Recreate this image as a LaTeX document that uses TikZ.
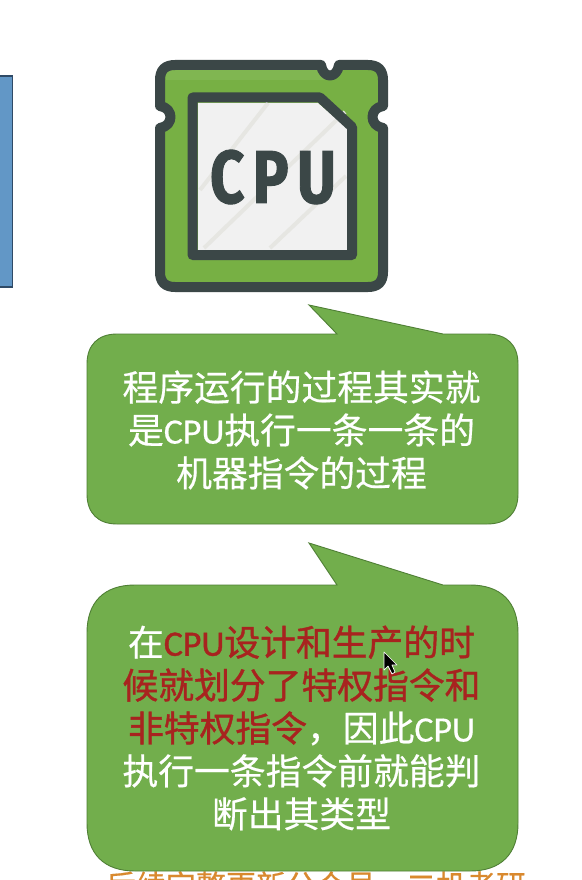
\documentclass[tikz,border=0pt]{standalone}
\usepackage{fontspec}
\setmainfont[FakeBold=0.5]{Noto Sans CJK SC}
\newfontfamily\hotfont[FakeBold=1.1]{Noto Sans CJK SC}
\newfontfamily\latfont[FakeBold=0.5]{Carlito}
\newfontfamily\hotlat[FakeBold=1.1]{Carlito}
\newfontfamily\chipfont[FakeStretch=0.8,LetterSpace=11,FakeBold=1.2]{Fira Sans}
\usetikzlibrary{calc}
\def\lat#1{{\latfont #1}}
\def\hot#1{\textcolor{hotred}{\hotfont #1}}
\definecolor{bubblegreen}{HTML}{72AE4C}
\definecolor{bubbleedge}{HTML}{4F7F35}
\definecolor{chipgreen}{HTML}{77B044}
\definecolor{chiplight}{HTML}{80B651}
\definecolor{chipdark}{HTML}{3B4747}
\definecolor{chipface}{HTML}{F1F1F1}
\definecolor{chipstripe}{HTML}{E6E6E2}
\definecolor{hotred}{HTML}{A8231F}
\definecolor{noteorange}{HTML}{D9892E}
\definecolor{panelblue}{HTML}{6297C6}
\definecolor{paneledge}{HTML}{2F4A66}
\begin{document}
\begin{tikzpicture}[x=1pt,y=-1pt]
    \tikzstyle{bubble}=[fill=bubblegreen,draw=bubbleedge,line width=0.9pt]
    \tikzstyle{chip edge}=[draw=chipdark,line width=10pt,line join=round]
    \tikzstyle{bubble text}=[text=white,align=center,inner sep=0pt,font=\fontsize{35.8}{42.9}\selectfont]
    \tikzstyle{stripe}=[draw=chipstripe,line width=4pt]

    \useasboundingbox (0,0) rectangle (581,880);
    \clip (0,0) rectangle (581,880);
    \fill[white] (0,0) rectangle (581,880);

    % Draw the side panel
    \path[fill=panelblue,draw=paneledge,line width=1.2pt] (-5,76) rectangle (12.5,287);

    % Draw the chip
    \path[fill=chipgreen]
        (175,65) -- (321,65) .. controls (323,79) and (337,79) .. (339,65)
        -- (368,65) .. controls (378,65) and (383,70) .. (383,80)
        -- (383,106) .. controls (369,108) and (369,126) .. (383,128)
        -- (383,272) .. controls (383,282) and (378,287) .. (368,287)
        -- (175,287) .. controls (165,287) and (160,282) .. (160,272)
        -- (160,128) .. controls (174,126) and (174,108) .. (160,106)
        -- (160,80) .. controls (160,70) and (165,65) .. (175,65) -- cycle;
    \fill[chiplight] (166,70) -- (318,70) -- (325,80) -- (166,80) -- cycle;
    \path[chip edge]
        (175,65) -- (321,65) .. controls (323,79) and (337,79) .. (339,65)
        -- (368,65) .. controls (378,65) and (383,70) .. (383,80)
        -- (383,106) .. controls (369,108) and (369,126) .. (383,128)
        -- (383,272) .. controls (383,282) and (378,287) .. (368,287)
        -- (175,287) .. controls (165,287) and (160,282) .. (160,272)
        -- (160,128) .. controls (174,126) and (174,108) .. (160,106)
        -- (160,80) .. controls (160,70) and (165,65) .. (175,65) -- cycle;
    \path[fill=chipface] (198,103) -- (318,103) -- (347,128) -- (347,250) -- (198,250) -- cycle;
    \draw[stripe] (200,190) -- (268,103);
    \draw[stripe] (204,248) -- (345,112);
    \draw[stripe] (270,248) -- (346,176);
    \path[chip edge] (192.5,97.5) -- (320,97.5) -- (352,127) -- (352,255) -- (192.5,255) -- cycle;
    \node[text=chipdark,inner sep=0pt] (C-1) at (273,177)
        {\chipfont\bfseries\fontsize{75}{75}\selectfont CPU};

    % Draw the note below the last bubble
    \node[text=noteorange,anchor=north,inner sep=0pt,font=\fontsize{30}{30}\selectfont] (N-1) at (316,871)
        {后续完整更新公众号，二机考研};

    % Draw the bubbles
    \path[bubble] (117,334) -- (337,334) -- (309,305) -- (443,334) -- (487,334)
        .. controls (507,334) and (518,345) .. (518,364)
        -- (518,494) .. controls (518,513) and (507,524) .. (487,524)
        -- (117,524) .. controls (98,524) and (87,513) .. (87,494)
        -- (87,364) .. controls (87,345) and (98,334) .. (117,334) -- cycle;
    \path[bubble] (135,585) -- (337,585) -- (309,543) -- (443,585) -- (470,585)
        .. controls (501,585) and (518,602) .. (518,633)
        -- (518,823) .. controls (518,854) and (501,871) .. (470,871)
        -- (135,871) .. controls (104,871) and (87,854) .. (87,823)
        -- (87,633) .. controls (87,602) and (104,585) .. (135,585) -- cycle;

    % Draw the bubble texts
    \node[bubble text] (T-1) at (301.5,430)
        {程序运行的过程其实就\\是\lat{CPU}执行一条一条的\\机器指令的过程};
    \node[bubble text] (T-2) at (301.5,728)
        {在\hot{{\hotlat CPU}设计和生产的时}\\
         \hot{候就划分了特权指令和}\\
         \hot{非特权指令}，因此\lat{CPU}\\
         执行一条指令前就能判\\
         断出其类型};

    % Draw the pointer
    \path[fill=black,draw=white,line width=0.7pt,line join=round]
        (384,652) -- (384,670) -- (388,666) -- (392,674) -- (395,672) -- (392,665) -- (397,665) -- cycle;
\end{tikzpicture}
\end{document}
